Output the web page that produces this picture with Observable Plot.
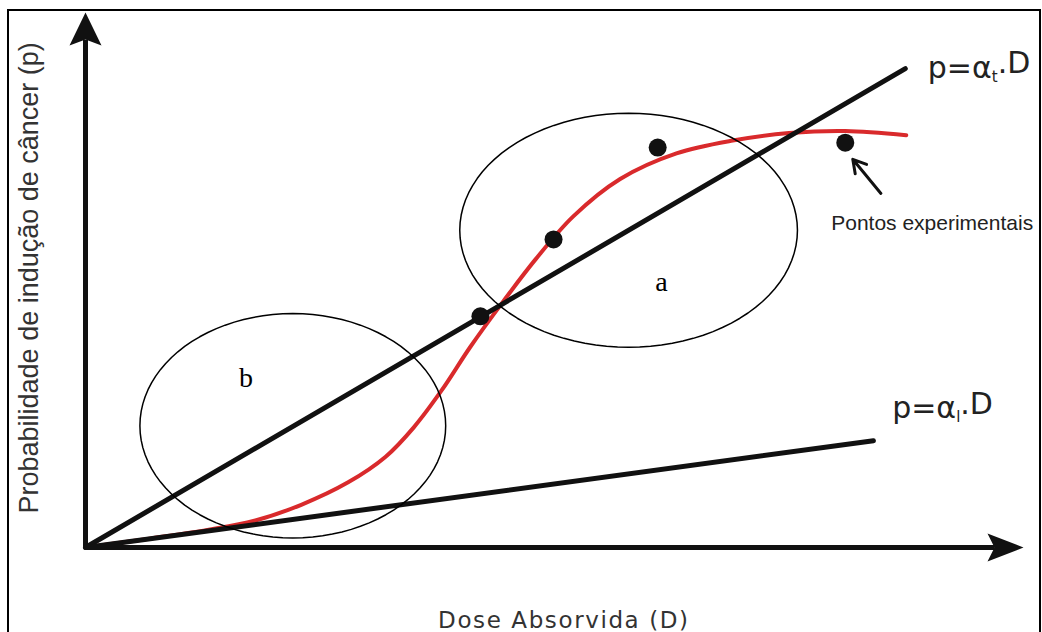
<!DOCTYPE html>
<html><head><meta charset="utf-8">
<script src="https://cdn.jsdelivr.net/npm/d3@7"></script>
<script src="https://cdn.jsdelivr.net/npm/@observablehq/plot@0.6"></script>
<style>
html,body{margin:0;padding:0;background:#fff;}
#wrap{position:relative;width:1042px;height:632px;overflow:hidden;}
#frame{position:absolute;left:7px;top:9px;width:1030px;height:700px;border:2px solid #000;border-bottom:none;pointer-events:none;}
</style></head><body>
<div id="wrap"><div id="chart"></div><div id="frame"></div></div>
<script>
// Sigmoid fit through experimental points (dose D, probability p)
const fitDose = [0, 0.7, 1.3, 1.8, 2.3, 2.8, 3.2, 3.5, 3.8, 4.1, 4.45, 4.8, 5.2, 5.7, 6.3, 6.9, 7.5, 8.1, 8.75];
const fitProb = [0, 0.17, 0.33, 0.5, 0.8, 1.22, 1.7, 2.25, 2.95, 3.75, 4.6, 5.4, 6.2, 6.9, 7.38, 7.62, 7.76, 7.8, 7.72];
// Experimental points
const expDose = [4.21, 4.99, 6.10, 8.10];
const expProb = [4.33, 5.77, 7.49, 7.58];
// Linear models p = alpha . D
const modelNames = ["p=αt.D", "p=αl.D"];
const modelSubscripts = ["t", "l"];
const modelAlpha = [1.026, 0.238];
const modelDoseMax = [8.74, 8.40];
// Highlighted regions (ellipses)
const regionNames = ["a", "b"];
const regionCx = [5.79, 2.21];
const regionCy = [5.94, 2.28];
const regionRx = [1.80, 1.63];
const regionRy = [2.19, 2.10];
// Axis titles and annotation
const xTitle = "Dose Absorvida (D)";
const yTitle = "Probabilidade de indução de câncer (p)";
const pointsNote = "Pontos experimentais";

const fit = fitDose.map((d, i) => ({dose: d, p: fitProb[i]}));
const exp = expDose.map((d, i) => ({dose: d, p: expProb[i]}));
const models = modelNames.flatMap((name, i) => [
  {model: name, dose: 0, p: 0},
  {model: name, dose: modelDoseMax[i], p: modelAlpha[i] * modelDoseMax[i]}
]);
const ellipses = regionNames.flatMap((name, i) => d3.range(96).map(k => {
  const t = 2 * Math.PI * k / 96;
  return {region: name, x: regionCx[i] + regionRx[i] * Math.cos(t), y: regionCy[i] + regionRy[i] * Math.sin(t)};
}));

const arrowUp = {draw(ctx, size) {
  const s = Math.sqrt(size / Math.PI) / 16;
  ctx.moveTo(0, 0); ctx.lineTo(16 * s, 33 * s); ctx.lineTo(0, 27 * s); ctx.lineTo(-16 * s, 33 * s); ctx.closePath();
}};
const arrowRight = {draw(ctx, size) {
  const s = Math.sqrt(size / Math.PI) / 16;
  ctx.moveTo(0, 0); ctx.lineTo(-36 * s, -14 * s); ctx.lineTo(-29 * s, 0); ctx.lineTo(-36 * s, 14 * s); ctx.closePath();
}};

const ink = "#111";
const chart = Plot.plot({
  width: 1042, height: 632,
  marginLeft: 85, marginRight: 19, marginTop: 13, marginBottom: 85,
  x: {domain: [0, 10], axis: null},
  y: {domain: [0, 10], axis: null},
  style: {background: "transparent", overflow: "visible"},
  marks: [
    Plot.line(fit, {x: "dose", y: "p", stroke: "#d92a2c", strokeWidth: 4, curve: "catmull-rom"}),
    Plot.line(models, {x: "dose", y: "p", z: "model", stroke: ink, strokeWidth: 5, strokeLinecap: "round"}),
    Plot.ruleY([0], {x1: 0, x2: 9.7, stroke: ink, strokeWidth: 5}),
    Plot.ruleX([0], {y1: 0, y2: 9.5, stroke: ink, strokeWidth: 5}),
    Plot.dot([{x: 10, y: 0}], {x: "x", y: "y", symbol: arrowRight, r: 16, fill: ink}),
    Plot.dot([{x: 0, y: 10.02}], {x: "x", y: "y", symbol: arrowUp, r: 16, fill: ink}),
    Plot.line(ellipses, {x: "x", y: "y", z: "region", stroke: "#000", strokeWidth: 1.5, curve: "linear-closed"}),
    Plot.dot(exp, {x: "dose", y: "p", r: 9, fill: ink}),
    Plot.arrow([{x1: 8.48, y1: 6.63, x2: 8.18, y2: 7.27}], {x1: "x1", y1: "y1", x2: "x2", y2: "y2", stroke: ink, strokeWidth: 3, headLength: 14, bend: 0}),
    Plot.text([pointsNote], {x: 7.95, y: 5.94, text: d => d, textAnchor: "start", lineAnchor: "bottom", fontSize: 21, fontFamily: "Liberation Sans", fill: "#222"}),
    Plot.text([modelNames[0]], {x: 8.98, y: 8.80, text: d => d, textAnchor: "start", lineAnchor: "bottom", fontSize: 30, fontFamily: "DejaVu Sans", fill: "#222"}),
    Plot.text([modelNames[1]], {x: 8.60, y: 2.43, text: d => d, textAnchor: "start", lineAnchor: "bottom", fontSize: 30, fontFamily: "DejaVu Sans", fill: "#222"}),
    Plot.text(regionNames, {x: (d, i) => [6.14, 1.71][i], y: (d, i) => [4.98, 3.18][i], text: d => d, fontSize: 28, fontFamily: "Liberation Serif", fill: "#000"}),
    Plot.text([xTitle], {x: 5.10, y: -1.50, text: d => d, lineAnchor: "bottom", fontSize: 23, fontFamily: "DejaVu Sans", fill: "#333"}),
    Plot.text([yTitle], {x: -0.60, y: 5.05, text: d => d, rotate: -90, fontSize: 27, fontFamily: "Liberation Sans", fill: "#333"})
  ]
});
// typographic refinements: subscripts on alpha, wide tracking on x title
d3.select(chart).selectAll("text").each(function() {
  const el = d3.select(this);
  const s = el.text();
  const idx = modelNames.indexOf(s);
  if (idx >= 0) {
    el.text(null);
    el.append("tspan").text("p=α");
    el.append("tspan").attr("dy", "0.28em").attr("font-size", "0.5em").text(modelSubscripts[idx]);
    el.append("tspan").attr("dy", "-0.28em").text(".D");
  } else if (s === xTitle) {
    el.attr("letter-spacing", "1.6px");
  }
});
document.getElementById("chart").appendChild(chart);
</script></body></html>
